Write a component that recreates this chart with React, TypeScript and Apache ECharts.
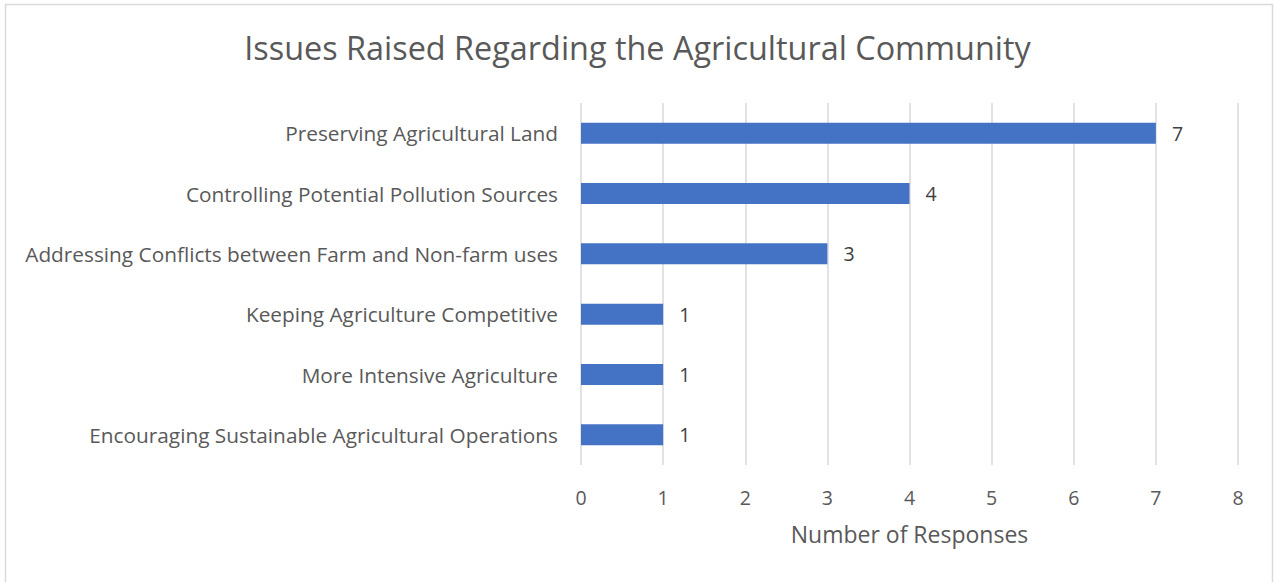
import React, { useEffect, useRef } from "react";
import * as echarts from "echarts";

const categories = [
  "Encouraging Sustainable Agricultural Operations",
  "More Intensive Agriculture",
  "Keeping Agriculture Competitive",
  "Addressing Conflicts between Farm and Non-farm uses",
  "Controlling Potential Pollution Sources",
  "Preserving Agricultural Land",
];
const responses = [1, 1, 1, 3, 4, 7];
const titleText = "Issues Raised Regarding the Agricultural Community";
const xAxisName = "Number of Responses";

const FONT = "'Open Sans', 'Noto Sans', sans-serif";

export default function App() {
  const ref = useRef<HTMLDivElement>(null);
  useEffect(() => {
    if (!ref.current) return;
    const chart = echarts.init(ref.current, null, { renderer: "svg" });
    chart.setOption({
      animation: false,
      backgroundColor: "#ffffff",
      title: {
        text: titleText,
        left: "center",
        top: 26,
        textStyle: {
          fontFamily: FONT,
          fontSize: 32.4,
          fontWeight: "normal",
          color: "#595959",
        },
      },
      graphic: [
        {
          type: "rect",
          shape: { x: 5.5, y: 4.5, width: 1267, height: 620 },
          style: { fill: "none", stroke: "#d9d9d9", lineWidth: 1.5 },
          silent: true,
        },
      ],
      grid: { left: 581, right: 37, top: 103, bottom: 117, containLabel: false },
      xAxis: {
        type: "value",
        min: 0,
        max: 8,
        interval: 1,
        name: xAxisName,
        nameLocation: "middle",
        nameGap: 57,
        nameTextStyle: { fontFamily: FONT, fontSize: 23, color: "#595959" },
        axisLine: { show: false },
        axisTick: { show: false },
        axisLabel: {
          fontFamily: FONT,
          fontSize: 19.5,
          color: "#595959",
          margin: 22,
        },
        splitLine: { show: true, lineStyle: { color: "#d9d9d9", width: 1.5 } },
      },
      yAxis: {
        type: "category",
        data: categories,
        axisLine: { show: false },
        axisTick: { show: false },
        axisLabel: {
          fontFamily: FONT,
          fontSize: 20.8,
          color: "#595959",
          margin: 23,
        },
      },
      series: [
        {
          type: "bar",
          data: responses,
          barWidth: 21,
          itemStyle: { color: "#4472C4" },
          label: {
            show: true,
            position: "right",
            distance: 16,
            fontFamily: FONT,
            fontSize: 19.5,
            color: "#404040",
          },
        },
      ],
    });
    return () => chart.dispose();
  }, []);
  return (
    <div
      ref={ref}
      style={{ position: "fixed", left: 0, top: 0, width: 1275, height: 582 }}
    />
  );
}
